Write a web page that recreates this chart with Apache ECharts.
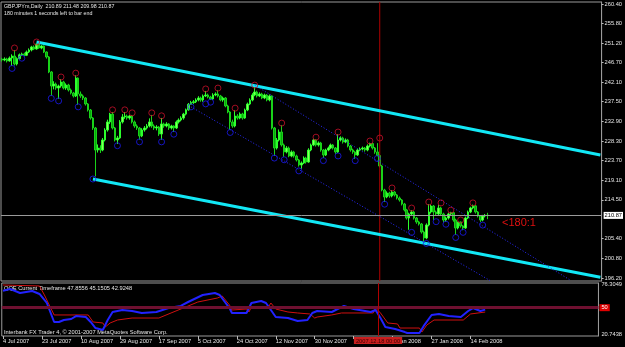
<!DOCTYPE html>
<html>
<head>
<meta charset="utf-8">
<script src="https://cdn.jsdelivr.net/npm/echarts@6/dist/echarts.min.js"></script>
<style>
  html, body { margin: 0; padding: 0; background: #000; }
  #chart { width: 625px; height: 347px; }
</style>
</head>
<body>
<div id="chart"></div>
<script>
// GBPJPYm daily with channel lines and QQE pane

// bar slots on the time axis (199 bars + empty shift area on the right)
const slotCount = 245;
const slots = [];
for (let i = 0; i < slotCount; i++) slots.push(String(i));

// date labels under the chart and the bar they sit on
const xLabelBars = [0, 16, 32, 48, 64, 80, 96, 112, 128, 144, 160, 176, 192];
const xLabels = ['4 Jul 2007', '23 Jul 2007', '10 Aug 2007', '29 Aug 2007', '17 Sep 2007', '5 Oct 2007',
  '24 Oct 2007', '12 Nov 2007', '30 Nov 2007', '19 Dec 2007', '8 Jan 2008', '27 Jan 2008', '14 Feb 2008'];

// price scale tick labels
const priceTicks = [196.20, 200.80, 205.40, 214.50, 219.10, 223.70, 228.30, 232.90, 237.50, 242.10, 246.70, 251.20, 255.80, 260.40];

// daily bars [open, close, low, high]
const ohlc = [
  [247.50, 247.28, 246.90, 247.80], [247.28, 247.52, 247.00, 247.90], [247.52, 247.05, 246.70, 247.80], [247.05, 247.75, 246.90, 248.10],
  [247.75, 248.22, 245.90, 248.60], [248.22, 246.34, 246.00, 249.60], [246.34, 247.60, 246.00, 247.90], [247.60, 248.50, 247.40, 248.80],
  [248.50, 248.70, 248.20, 249.00], [248.70, 248.40, 248.20, 249.00], [248.40, 249.16, 248.20, 249.50], [249.16, 249.62, 248.90, 250.00],
  [249.62, 250.33, 249.30, 250.60], [250.33, 249.86, 249.60, 250.70], [249.86, 251.03, 249.70, 251.10], [251.03, 250.09, 249.90, 251.00],
  [250.09, 250.56, 249.80, 250.80], [250.56, 249.16, 248.90, 250.70], [249.16, 247.98, 247.60, 249.30], [247.98, 244.47, 244.20, 248.20],
  [244.47, 241.19, 238.90, 244.70], [241.19, 241.66, 240.40, 242.30], [241.66, 240.72, 240.30, 242.00], [240.72, 241.19, 238.20, 241.50],
  [241.19, 242.13, 240.80, 242.80], [242.13, 240.72, 240.40, 242.40], [240.72, 241.42, 240.30, 241.80], [241.42, 240.25, 239.90, 241.70],
  [240.25, 239.55, 239.20, 240.60], [239.55, 238.85, 238.50, 239.80], [238.85, 243.06, 238.60, 243.70], [243.06, 239.32, 236.80, 243.20],
  [239.32, 238.85, 238.40, 239.90], [238.85, 238.38, 237.90, 239.20], [238.38, 236.97, 236.60, 238.60], [236.97, 235.57, 235.20, 237.20],
  [235.57, 233.69, 233.30, 235.80], [233.69, 231.35, 230.90, 233.90], [231.35, 226.19, 220.00, 231.60], [226.19, 226.66, 225.60, 227.50],
  [226.66, 226.19, 225.50, 227.30], [226.19, 228.54, 225.90, 229.00], [228.54, 230.88, 228.20, 231.30], [230.88, 232.76, 230.50, 233.30],
  [232.76, 234.60, 232.30, 234.90], [234.60, 231.35, 231.00, 235.10], [231.35, 228.54, 228.20, 231.60], [228.54, 229.01, 227.60, 229.50],
  [229.01, 232.76, 228.80, 233.20], [232.76, 233.93, 232.40, 234.60], [233.93, 234.16, 233.50, 235.10], [234.16, 233.69, 233.30, 234.50],
  [233.69, 234.16, 233.30, 234.40], [234.16, 232.76, 232.40, 234.40], [232.76, 231.82, 231.40, 233.10], [231.82, 231.35, 230.90, 232.20],
  [231.35, 229.48, 228.60, 231.60], [229.48, 230.88, 229.20, 231.30], [230.88, 231.35, 230.50, 231.80], [231.35, 231.82, 231.00, 232.30],
  [231.82, 232.76, 231.50, 233.60], [232.76, 231.82, 231.40, 234.40], [231.82, 231.35, 230.90, 232.20], [231.35, 231.58, 230.80, 232.00],
  [231.58, 229.94, 229.50, 231.80], [229.94, 232.29, 228.60, 233.70], [232.29, 231.82, 231.40, 232.60], [231.82, 232.29, 231.50, 232.70],
  [232.29, 231.35, 230.90, 232.50], [231.35, 231.82, 231.00, 232.10], [231.82, 231.35, 230.40, 232.00], [231.35, 232.76, 231.10, 233.10],
  [232.76, 233.22, 232.40, 233.60], [233.22, 233.69, 232.90, 234.10], [233.69, 234.60, 233.30, 234.90], [234.60, 235.60, 234.30, 235.90],
  [235.60, 236.90, 235.40, 237.20], [236.90, 237.30, 236.80, 237.70], [237.30, 237.50, 237.00, 237.90], [237.50, 237.91, 237.20, 238.30],
  [237.91, 238.38, 237.60, 238.80], [238.38, 237.91, 237.50, 238.70], [237.91, 238.85, 237.50, 239.20], [238.85, 239.08, 238.60, 240.00],
  [239.08, 238.61, 238.30, 239.40], [238.61, 238.14, 237.90, 238.90], [238.14, 239.08, 237.90, 239.50], [239.08, 239.32, 238.80, 239.70],
  [239.32, 238.85, 238.50, 240.20], [238.85, 237.91, 237.60, 239.10], [237.91, 238.38, 237.50, 238.70], [238.38, 236.50, 236.20, 238.60],
  [236.50, 235.10, 234.80, 236.80], [235.10, 232.76, 230.90, 235.30], [232.76, 231.82, 231.40, 233.30], [231.82, 234.16, 231.50, 235.50],
  [234.16, 233.69, 233.30, 234.60], [233.69, 234.63, 233.40, 235.00], [234.63, 233.69, 233.30, 234.90], [233.69, 235.57, 233.50, 235.90],
  [235.57, 236.97, 235.30, 237.30], [236.97, 237.91, 236.70, 238.30], [237.91, 239.08, 237.60, 239.50], [239.08, 239.78, 238.80, 240.90],
  [239.78, 238.85, 238.50, 240.10], [238.85, 239.32, 238.60, 239.70], [239.32, 238.38, 238.10, 239.60], [238.38, 239.08, 238.10, 239.40],
  [239.08, 237.91, 237.60, 239.30], [237.91, 238.85, 237.60, 239.20], [238.85, 231.35, 231.00, 239.00], [231.35, 226.66, 224.80, 231.60],
  [226.66, 228.54, 226.30, 229.00], [228.54, 230.41, 228.20, 231.00], [230.41, 227.37, 227.00, 232.00], [227.37, 225.73, 224.60, 227.70],
  [225.73, 226.66, 225.40, 227.10], [226.66, 224.79, 224.50, 227.00], [224.79, 225.73, 224.50, 226.10], [225.73, 224.79, 224.40, 226.00],
  [224.79, 223.85, 223.50, 225.10], [223.85, 222.68, 222.30, 224.10], [222.68, 223.15, 221.80, 223.50], [223.15, 224.32, 222.90, 224.70],
  [224.32, 223.38, 223.00, 224.60], [223.38, 226.19, 223.20, 226.60], [226.19, 227.37, 225.90, 227.70], [227.37, 228.54, 227.10, 228.80],
  [228.54, 227.37, 227.00, 228.70], [227.37, 227.84, 227.00, 228.20], [227.84, 226.19, 225.80, 228.10], [226.19, 225.02, 224.30, 226.40],
  [225.02, 226.19, 224.80, 226.50], [226.19, 226.66, 225.90, 227.00], [226.66, 227.37, 226.40, 227.70], [227.37, 226.66, 226.30, 227.60],
  [226.66, 225.73, 225.30, 226.90], [225.73, 228.54, 225.50, 229.90], [228.54, 229.01, 228.20, 229.40], [229.01, 228.07, 227.70, 229.30],
  [228.07, 228.54, 227.80, 228.90], [228.54, 227.13, 226.80, 228.80], [227.13, 226.19, 225.80, 227.40], [226.19, 225.73, 225.30, 226.50],
  [225.73, 225.02, 224.10, 226.00], [225.02, 226.19, 224.80, 226.50], [226.19, 226.43, 225.90, 226.80], [226.43, 226.66, 226.10, 227.00],
  [226.66, 226.19, 225.80, 226.90], [226.19, 227.13, 225.90, 227.50], [227.13, 227.70, 226.80, 227.90], [227.70, 226.66, 226.30, 227.90],
  [226.66, 225.73, 225.30, 226.90], [225.73, 224.90, 224.70, 227.80], [224.90, 222.45, 222.10, 225.20], [222.45, 216.82, 216.50, 222.70],
  [216.82, 215.18, 214.00, 217.10], [215.18, 216.12, 214.90, 216.50], [216.12, 215.42, 215.00, 216.40], [215.42, 216.35, 215.10, 216.80],
  [216.35, 215.65, 215.30, 216.60], [215.65, 214.95, 214.60, 215.90], [214.95, 214.48, 214.10, 215.30], [214.48, 213.54, 213.20, 214.70],
  [213.54, 212.14, 211.80, 213.80], [212.14, 210.26, 209.90, 212.40], [210.26, 211.20, 207.50, 211.50], [211.20, 211.67, 210.90, 212.10],
  [211.67, 210.26, 209.90, 211.90], [210.26, 209.33, 208.90, 210.50], [209.33, 208.86, 208.50, 209.60], [208.86, 206.98, 206.60, 209.10],
  [206.98, 205.58, 204.80, 207.30], [205.58, 208.62, 205.30, 209.00], [208.62, 211.67, 208.30, 213.50], [211.67, 213.07, 211.30, 213.40],
  [213.07, 211.67, 209.80, 213.30], [211.67, 211.20, 210.80, 212.00], [211.20, 212.61, 210.90, 213.30], [212.61, 211.20, 210.80, 212.90],
  [211.20, 209.79, 209.30, 211.50], [209.79, 210.26, 209.40, 210.60], [210.26, 211.20, 209.90, 211.50], [211.20, 211.50, 210.90, 211.70],
  [211.50, 209.79, 209.40, 211.70], [209.79, 207.92, 206.30, 210.10], [207.92, 209.33, 207.60, 209.40], [209.33, 208.39, 208.00, 209.40],
  [208.39, 207.92, 207.40, 208.60], [207.92, 210.26, 207.70, 210.60], [210.26, 211.67, 210.00, 212.00], [211.67, 212.61, 211.40, 212.90],
  [212.61, 213.10, 212.30, 213.40], [213.10, 211.67, 211.30, 213.30], [211.67, 210.73, 210.40, 211.90], [210.73, 209.79, 209.30, 210.90],
  [209.79, 210.73, 209.50, 211.00], [210.73, 210.89, 210.40, 211.20], [210.89, 210.87, 209.98, 211.48]
];

// fractal marks [bar, price]
const upFractals = [[5, 250.1], [14, 251.5], [24, 243.3], [30, 244.2], [45, 235.6], [50, 235.6], [53, 234.9], [61, 234.9],
  [65, 234.2], [83, 240.5], [88, 240.7], [95, 236.0], [103, 241.4], [114, 232.5], [128, 229.2], [137, 230.4], [150, 228.3],
  [154, 229.0], [159, 217.3], [167, 212.6], [174, 214.0], [179, 213.8], [183, 212.1], [187, 209.8], [192, 213.8]];
const downFractals = [[4, 245.3], [8, 247.7], [20, 238.3], [23, 237.7], [31, 236.3], [37, 219.4], [47, 227.2], [56, 228.1],
  [65, 228.1], [70, 229.9], [77, 236.3], [83, 237.0], [85, 237.4], [93, 230.3], [111, 224.3], [115, 223.9], [121, 221.3],
  [131, 223.7], [137, 224.8], [144, 223.7], [153, 224.2], [156, 213.5], [167, 206.9], [173, 204.3], [177, 209.4], [181, 208.8],
  [185, 205.7], [188, 206.9], [196, 208.6]];

// drawn channel lines [bar, price]
const channelTop = [[14, 251.5], [244, 225.0]];
const channelBottom = [[37, 219.4], [244, 196.4]];
const innerTop = [[103, 241.4], [232, 195.6]];
const innerBottom = [[77, 236.3], [199, 195.6]];

const lastPrice = 210.87;
const cursorBar = 154;
const priceRange = [195.5, 260.87];

// QQE pane [bar, value]
const qqeFast = [[0, 68.9], [3, 70.7], [7, 66.3], [12, 68.5], [15, 65.2], [18, 55.2], [21, 34.1], [23, 34.1], [25, 36.3],
  [28, 37.4], [30, 40.7], [34, 39.6], [36, 34.1], [38, 27.4], [41, 25.2], [43, 36.3], [45, 45.2], [49, 47.4], [53, 46.3],
  [57, 44.1], [63, 45.2], [68, 49.6], [73, 51.9], [76, 56.3], [82, 64.1], [87, 66.3], [89, 64.1], [93, 49.6], [94, 44.1],
  [100, 44.1], [102, 55.2], [106, 57.4], [108, 55.2], [110, 47.4], [112, 39.6], [117, 38.5], [121, 35.2], [125, 36.3],
  [127, 44.1], [129, 46.3], [135, 45.2], [140, 51.9], [144, 48.5], [151, 45.2], [153, 47.4], [155, 38.5], [157, 28.5],
  [161, 26.3], [165, 22.9], [166, 21.9], [171, 21.9], [173, 30.7], [176, 41.9], [179, 43.0], [183, 40.7], [188, 39.6],
  [191, 46.3], [193, 49.6], [196, 46.3], [198, 47.86]];
const qqeSlow = [[0, 75.2], [15, 74.1], [17, 64.1], [21, 41.9], [35, 41.9], [37, 34.1], [41, 33.0], [42, 28.5], [44, 33.0],
  [47, 36.3], [53, 38.5], [64, 38.5], [69, 44.1], [75, 50.7], [80, 56.3], [88, 60.7], [90, 63.0], [93, 53.0], [94, 47.4],
  [100, 48.5], [101, 45.2], [102, 50.7], [109, 50.7], [110, 55.2], [112, 48.5], [117, 45.2], [121, 44.1], [126, 43.0],
  [128, 38.5], [129, 39.6], [135, 41.9], [139, 44.1], [152, 44.1], [153, 49.6], [155, 44.1], [158, 33.0], [162, 31.9],
  [163, 27.4], [171, 27.4], [172, 22.9], [174, 30.7], [177, 36.3], [189, 36.3], [192, 43.0], [198, 45.15]];
const qqeTicks = [20.7438, 76.3049];

const txt = '#e6e6e6';
const small = '5.7px "Liberation Sans"';
const cursorRed = '#b00000';

let chart = echarts.init(document.getElementById('chart'));

function channel(pts, color, width, type) {
    return {
        type: 'line', data: pts, xAxisIndex: 0, yAxisIndex: 0,
        symbol: 'none', silent: true, z: 3,
        lineStyle: { color: color, width: width, type: type }
    };
}

function fractals(pts, color) {
    return {
        type: 'scatter', data: pts, xAxisIndex: 0, yAxisIndex: 0,
        symbol: 'circle', symbolSize: 6, silent: true, z: 4,
        itemStyle: { color: 'rgba(0,0,0,0)', borderColor: color, borderWidth: 1 }
    };
}

let option = {
    backgroundColor: '#000',
    animation: false,
    textStyle: { fontFamily: 'Liberation Sans' },
    grid: [
        { left: 1, right: 23, top: 2, height: 279, show: true, borderColor: '#9a9a9a', borderWidth: 1 },
        { left: 1, right: 23, top: 283, height: 53, show: true, borderColor: '#9a9a9a', borderWidth: 1 }
    ],
    xAxis: [
        {
            type: 'category', data: slots, gridIndex: 0, boundaryGap: true,
            axisLine: { show: false }, axisTick: { show: false }, axisLabel: { show: false }
        },
        {
            type: 'category', data: slots, gridIndex: 1, boundaryGap: true,
            axisLine: { show: false },
            axisTick: {
                show: true, alignWithLabel: true, length: 3, lineStyle: { color: '#bbb' },
                interval: (i) => xLabelBars.indexOf(i) >= 0
            },
            axisLabel: {
                color: txt, fontSize: 5.7, margin: 2, align: 'left',
                interval: (i) => xLabelBars.indexOf(i) >= 0,
                formatter: (v, i) => xLabels[xLabelBars.indexOf(i)] || ''
            }
        }
    ],
    yAxis: [
        {
            type: 'value', gridIndex: 0, position: 'right', min: priceRange[0], max: priceRange[1], scale: true,
            splitLine: { show: false },
            axisLine: { show: true, lineStyle: { color: '#9a9a9a' } },
            axisTick: { show: true, length: 2, customValues: priceTicks, lineStyle: { color: '#bbb' } },
            axisLabel: { color: txt, fontSize: 5.7, margin: 3, customValues: priceTicks, formatter: (v) => v.toFixed(2) }
        },
        {
            type: 'value', gridIndex: 1, position: 'right', min: 18.53, max: 77.41,
            splitLine: { show: false },
            axisLine: { show: true, lineStyle: { color: '#9a9a9a' } },
            axisTick: { show: false },
            axisLabel: { color: txt, fontSize: 5.7, margin: 3, customValues: qqeTicks, formatter: (v) => v.toFixed(4) }
        }
    ],
    series: [
        {
            type: 'candlestick', data: ohlc, xAxisIndex: 0, yAxisIndex: 0, barWidth: 2, z: 2,
            itemStyle: { color: '#8dff5a', color0: '#07a80c', borderColor: '#2cff2c', borderColor0: '#19d219', borderWidth: 1 },
            markLine: {
                silent: true, symbol: 'none', animation: false,
                lineStyle: { color: '#9a9a9a', width: 1, type: 'solid' },
                data: [
                    {
                        yAxis: lastPrice,
                        label: {
                            position: 'end', formatter: lastPrice.toFixed(2), color: '#000', backgroundColor: '#fff',
                            fontSize: 5.7, padding: [1, 1, 0, 1], distance: 2
                        }
                    }
                ]
            }
        },
        // crosshair line in the price pane
        channel([[cursorBar, priceRange[0]], [cursorBar, priceRange[1]]], cursorRed, 1, 'solid'),
        channel(channelTop, '#12e8f6', 3, 'solid'),
        channel(channelBottom, '#12e8f6', 3, 'solid'),
        channel(innerTop, '#2a2aff', 1, [1, 2]),
        channel(innerBottom, '#2a2aff', 1, [1, 2]),
        fractals(upFractals, '#c8102a'),
        fractals(downFractals, '#1a1aee'),
        {
            type: 'line', data: qqeSlow, xAxisIndex: 1, yAxisIndex: 1, symbol: 'none', z: 3,
            lineStyle: { color: '#d01010', width: 1 },
            markLine: {
                silent: true, symbol: 'none',
                lineStyle: { color: cursorRed, width: 1, type: 'solid' },
                data: [
                    {
                        yAxis: 50, lineStyle: { color: '#6e1030', width: 3, type: 'solid' },
                        label: { position: 'end', formatter: '50', color: '#fff', backgroundColor: '#e00000', fontSize: 5.7, padding: [1, 2, 0, 2], distance: 1 }
                    },
                    {
                        xAxis: cursorBar,
                        label: {
                            position: 'start', formatter: '2007.12.18 00:00', color: '#3a0000', backgroundColor: '#c81e1e',
                            fontSize: 5.7, padding: [1, 2, 0, 2], distance: 1
                        }
                    }
                ]
            }
        },
        {
            type: 'line', data: qqeFast, xAxisIndex: 1, yAxisIndex: 1, symbol: 'none', z: 4,
            lineStyle: { color: '#2222ff', width: 2 }
        }
    ],
    graphic: [
        { type: 'text', left: 4, top: 4, style: { text: 'GBPJPYm,Daily  210.89 211.48 209.98 210.87', fill: txt, font: '5.3px "Liberation Sans"' } },
        { type: 'text', left: 4, top: 11, style: { text: '180 minutes 1 seconds left to bar end', fill: txt, font: '5.3px "Liberation Sans"' } },
        { type: 'text', left: 502, top: 217, style: { text: '<180:1', fill: '#e01010', font: '11px "Liberation Sans"' } },
        { type: 'text', left: 4, top: 285, style: { text: 'QQE Current Timeframe 47.8556 45.1505 42.9248', fill: txt, font: small } },
        { type: 'text', left: 4, top: 329, style: { text: 'Interbank FX Trader 4, \u00a9 2001-2007 MetaQuotes Software Corp.', fill: txt, font: small } }
    ]
};

chart.setOption(option);
</script>
</body>
</html>
